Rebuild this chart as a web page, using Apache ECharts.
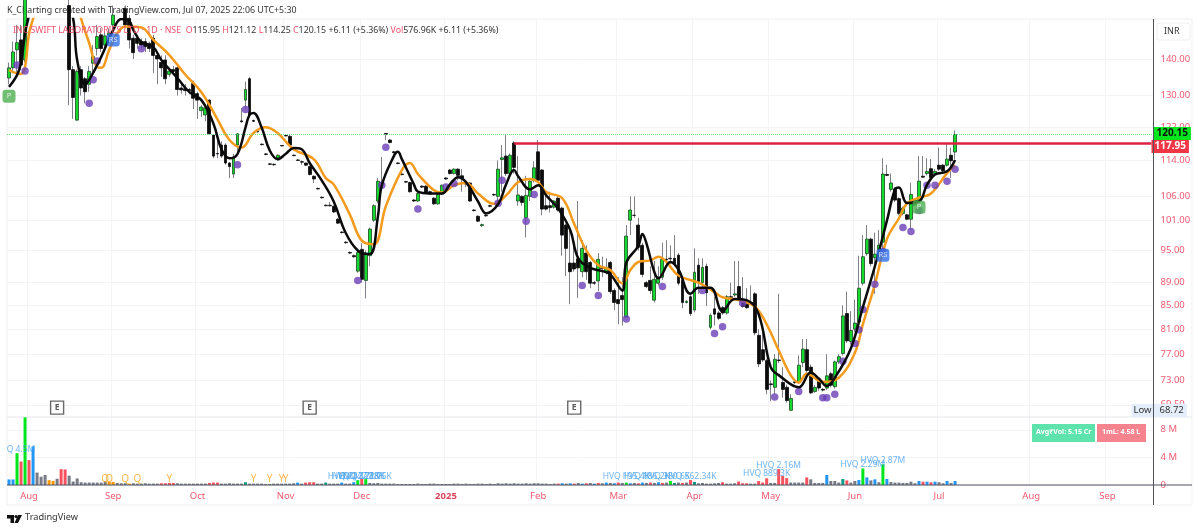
<!DOCTYPE html>
<html>
<head>
<meta charset="utf-8">
<style>html,body{margin:0;padding:0;background:#fff}#main{width:1200px;height:532px}</style>
<script src="https://cdn.jsdelivr.net/npm/echarts@6/dist/echarts.min.js"></script>
</head>
<body>
<div id="main"></div>
<script>
const opens = [
  134.7,137.5,142.6,145.5,139.7,158,165,172,168,174,
  170,166,169,163,160,156,137,123.7,137,134.5,
  133,138.8,143,147,144,147,150,153,156,155,
  152,146,146,145,145,144.5,146,141,139,139.7,
  135.7,137,137.5,132,131.8,131.6,133.2,130.5,126.1,125,
  128.8,120,115.6,117.6,117.6,113.4,110.9,117.6,123.5,128.8,
  134.5,123.6,121,117.8,115.5,113.2,113.1,114.1,117.5,119.9,
  119.7,115.2,114.1,113.7,113.4,112.6,110.4,107.7,105.8,104.1,
  104.1,103.9,101.2,98.6,96.6,94.6,94,91.1,95.2,89.4,
  94,101,105,108.9,120.4,118.8,116,113.4,110.9,109.2,
  109,105.2,105,108.2,108.2,107,105.6,104.4,106.5,110,
  111.8,111,112,110.5,109,108.9,103.1,101.8,99.9,102,
  104,106.4,106,114.2,115,111,118.1,105,106,101.5,
  106,109.5,116,111.8,104,104,103.7,105.6,103.5,100,
  92.6,92.6,93.4,91,94.5,92.7,89,89.3,91.7,90.9,
  92.7,87.6,86,86.7,83,101,102,100,96,89,
  89.4,85.9,88.9,90,93.3,93.5,93.5,94.1,89.4,85.5,
  86.5,84.2,92.2,89,92,81.3,84.4,83.7,84.6,83.7,
  86.5,86.8,88.3,85.4,85.2,85.5,87,80,77.7,76,
  72.5,72,76.1,72.7,72,68.72,72.8,72.8,75.7,77.7,
  75,71.4,72.9,71.7,71.9,74,72.1,75.8,77.1,83.6,
  79,81,82.2,88.9,94.4,97.2,93.6,95,96.6,110.8,
  107.5,107.6,105.5,102.4,102.1,101.2,104.1,105.2,110.4,111,
  112.1,111,112.9,112.9,112.9,115.2,115.95
]
const closes = [
  137.5,142,144.7,138.3,158,165,172,168,174,170,
  166,169,163,160,156,137,129.5,136.5,132,131,
  136.5,140.7,146.5,143,146.7,147.5,153,156,155,150,
  145.5,141.8,144.5,144,143.5,143,141,140,137.5,134.5,
  136.6,136.5,131.6,131.5,131.3,131.3,129.3,128.8,127,126.8,
  120.3,115,115.5,115,113.4,112.6,114.8,120.3,123.3,131.6,
  125,123.4,120.8,117.7,115.4,113.1,113,115.2,117.4,119.8,
  117.6,115.1,114,113.6,112.9,110.8,109.8,107.6,105.7,104,
  104,102.7,100.4,98.5,96.5,94.5,93.8,94.6,89.6,94.5,
  99.2,104,109.3,109,120.2,118.2,115.8,113.3,110.8,109.1,
  107,105,106.6,108,106.8,106.5,104.4,106.4,108.4,109.8,
  111,112,110.6,110,108.7,105,103,100.8,100.1,101.9,
  103.9,106.3,112,114.6,111,115.2,112.4,106.3,104.7,106.2,
  109.3,112.3,109.5,103.3,103.3,103.6,105,103.1,98,95.4,
  91,91.5,91.7,95.4,91,88.9,88.9,93.3,91.6,91.8,
  87.4,85.5,85.3,86,97.8,103.1,102,95.6,90.5,88.3,
  87.6,89.6,90,93.3,93.2,93.4,92.4,88.9,85.5,85.7,
  83.6,90.9,89.2,91.8,87.2,83.3,83.5,82.8,83.7,86.5,
  86.4,87,86.2,84.8,84.6,85.4,80.4,75.5,76.1,71.7,
  72.4,76.2,76,71.7,70.1,70.4,72.7,75.3,77.8,74.5,
  71.2,72,71.9,71.6,73.7,72.3,75.8,76.6,83.2,79.1,
  80.8,82,88,93.8,97.2,92.5,94.3,96,110.9,110.6,
  108.9,105.2,102.4,103.5,101.2,106.4,105.2,109.3,110.2,111.5,
  110.1,111.5,112,111.6,114.3,113.9,120.15
]
const highs = [
  139,145,150,150,165,168,176,178,178,177,
  173,172,171,166,163,158,138,137,138,135,
  138,144,150,149,148,149,156,159,158,156,
  153,147,147,146,146,145,147,142,141,141,
  137.5,138,138,133,133,132,134,131,127.5,127.2,
  129,120.2,119,118.5,118,113.6,115.5,120.5,126.8,133.7,
  135,123.8,121.2,118,115.7,113.4,113.3,115.4,117.6,120,
  120,115.4,114.3,114,113.5,112.8,110.6,107.9,106,104.3,
  104.8,104,101.4,98.8,96.8,94.8,94.2,95,96.4,95,
  99.5,104.3,110,114.8,120.5,119,116.2,113.6,111.1,109.4,
  109.2,105.4,106.8,108.4,108.4,107.2,105.8,106.6,108.6,110.2,
  112,112.2,112.2,112,109.2,109.1,103.3,102,100.3,102.2,
  104.2,106.6,114,117.6,120,115.6,118.5,115,106.2,110.5,
  109.6,113.8,118.8,112,107,107,105.2,106,103.8,100.3,
  99,97,105,97,96,93,89.3,94.5,93.8,93.5,
  93,88,90,90,100,106,106,101.5,96.5,89.3,
  92,93,92,96.5,97,96,98,94.5,89.8,85.9,
  86.8,95.4,93.5,93.5,92.5,83.6,86.5,84,84.9,86.8,
  89,93,93,90,88,88.5,87.3,81,81,76.3,
  73,77,87,75,72.4,71,73,76.8,79.4,79.4,
  75.4,72.3,73.5,71.9,77,74.3,76,77,85,87.4,
  84,86,94,98,100,97.5,98.5,99,114.5,113,
  111,108,105.8,103.8,102.3,109,105.5,115,115,114.5,
  114.3,112,117,113.2,118,117,121.12
]
const lows = [
  133,136,136,137,139,156,163,165,166,167,
  164,163,161,157,154,127.5,124,123.5,130,128,
  131,136,141,142,142,146,148,152,153,149,
  143,140,143,143,142,142,136,133,135,133,
  135,136,130,130.5,130,130.3,126.5,124,124.5,123.4,
  120,114.5,114.5,114.6,113,110,110,116,123,126.5,
  124.5,123.2,120.6,117.5,115.2,113,112.8,114,117.3,119.7,
  117.4,115,113.9,113,112.7,110.6,108.9,107.5,105.5,103.9,
  103.8,102.5,100.2,98.3,96.3,94.3,93.6,90.8,89,86.2,
  92,100.6,104.5,108.6,118.8,118,115.6,113.1,110.6,109,
  106.8,104.8,104.8,107.8,106.6,106.3,104.2,104.2,106.3,109.6,
  110.8,110.8,109.5,107,108,104.8,102.8,100.6,99.6,101.7,
  103.7,106.1,104.5,107,110.5,110,111,104,104,97.5,
  105,109,109,102,103,102.6,103.4,102.8,94,90.2,
  85.2,91,86.3,90,89.5,88,88.6,87.5,90,90.5,
  87,84.2,81.8,81.6,83,98,101.5,95,90,88,
  87,85.5,88.5,89.5,92,92.5,92,88.5,84.5,85.3,
  83.2,83.8,87,88,84.9,81,81.6,82.5,83.4,83.4,
  86.2,86.5,86,84.6,84.4,85.2,80,75,75.8,71,
  70,71,75.6,70.5,69.8,68.72,72.5,72.5,75,74,
  71,71.2,71.5,71.4,71.6,72,71.8,75.5,76.8,78.8,
  78.5,80.5,82,88.5,94,92,87,94.5,95,110.4,
  107,104.8,102,102,101,99,103.8,104.8,110,110.6,
  109.8,110.6,111.6,111.2,112.6,110,114.25
]
// volume in millions
const volumes = [
  .8,.8,4.6,3.4,9.8,3.6,5.6,1.8,1.2,1.45,
  .7,.6,.9,2.3,2.25,1.35,.5,.95,.4,.35,
  .35,.35,.35,.35,.5,.45,.45,.3,.25,.25,
  .2,.25,.2,.2,.25,.2,.2,.2,.25,.25,
  .3,.3,.25,.2,.2,.2,.2,.2,.2,.2,
  .3,.35,.35,.2,.2,.25,.2,.2,.2,.4,
  .2,.2,.2,.2,.15,.15,.2,.2,.2,.2,
  .2,.25,.35,.2,.35,.4,.4,.2,.2,.35,
  .2,.2,.2,.35,.2,.2,.4,.7,.9,.85,
  .3,.25,.3,.2,.2,.2,.2,.15,.15,.15,
  .15,.15,.2,.15,.15,.2,.2,.15,.15,.15,
  .15,.2,.2,.15,.2,.15,.15,.2,.2,.15,
  .2,.15,.25,.2,.25,.2,.25,.2,.2,.25,
  .2,.25,.25,.2,.2,.15,.2,.2,.25,.2,
  .25,.2,.3,.2,.25,.3,.2,.3,.25,.35,
  .3,.25,.35,.3,.35,.25,.3,.25,.35,.3,
  .35,.3,.4,.3,.35,.58,.3,.35,.3,.35,
  .72,.45,.25,.3,.2,.2,.25,.3,.4,.2,
  .2,.25,.5,.25,.25,.2,.2,.58,.35,.97,
  .3,.3,2.3,1.3,1,.35,.35,.35,.35,1.1,
  .82,.3,.3,.3,1.45,.58,.58,.35,.87,.67,
  .35,.58,.72,2.4,1.1,.67,.82,.4,3,.87,
  .43,.35,.35,.3,.3,.48,.25,.58,.48,.48,
  .4,.48,.4,.25,.58,.3,.58
]
// g grey, b blue, v bright green, r red, o orange, t teal
const volumeKinds = (
  'bbvrvrbggg' + 'oogrrggggg' + 'gggggooggg' + 'ogggggggrr' + 'rrgggggggg' +
  'rrrggggggt' + 'gggggggggg' + 'ggbgrrrggt' + 'gggbggbvrv' + 'gggggggggg' +
  'gggggggggg' + 'gggggggggg' + 'gggggggggg' + 'gggggggrbg' + 'brgbrgbrgb' +
  'gbrgvbgrbg' + 'rgbrgvtgrg' + 'rtggggggrg' + 'ggrrrggrrr' + 'ggrrrggggr' +
  'ggggbgggtr' + 'ggbvbgbgvb' + 'gggggggbrb' + 'rbggbgb'
).split('')

// fast and slow moving averages, read at the bends of each line
const fastIdx = [0,2,3,4,5,8,12,16,17,19,20,23,26,28,30,31,33,36,38,42,45,48,51,53,55,57,59,60,61,63,65,67,69,71,73,75,78,81,84,87,90,92,93,96,97,98,101,102,105,108,110,112,114,117,119,122,124,126,127,130,132,134,137,140,142,145,148,150,153,154,157,158,159,161,162,165,167,170,172,175,178,181,184,187,190,192,197,200,202,204,206,210,213,216,219,221,222,224,227,229,231,234,236]
const fastVals = [132.3,135.5,138.9,147.5,153,172,172,151.9,139.7,133,134.2,140.6,148.5,151.8,151.2,148.5,144.9,143.4,139.7,134.7,130.9,128.8,122.8,116.6,114.5,115.5,121.9,125,125.5,121.9,116.4,114.3,115.5,116.9,116.6,113.4,109.5,104.9,98.4,95,94.3,101.6,108.4,115,116,114.3,108.6,107,106.6,106.6,108.6,110.2,109.1,104.9,102.4,104.3,108.6,111.8,110.4,107.5,108.4,106.2,103.4,99,93.5,91.7,91.1,90.5,87.6,92.7,95.9,98.2,96.4,90.9,89.8,92.8,91.4,87,88.1,88.1,84,86.1,85.9,83.5,75,73.8,72,74.2,73.3,72.2,73.4,77.9,84.7,92,100.9,107.5,107.9,104.6,104.9,108.5,110.8,111.5,114.1]
const slowIdx = [0,3,4,5,6,10,14,18,20,22,23,25,27,29,33,36,40,44,48,52,55,58,61,64,67,71,76,79,81,85,88,91,94,98,100,102,106,108,111,114,117,121,124,127,130,132,134,138,141,144,147,150,153,155,157,160,162,164,167,172,176,178,182,186,189,192,195,197,199,203,207,211,213,216,219,222,224,227,230,234,236]
const slowVals = [136.9,135.8,137.8,147.5,151.8,170,170,151.8,144.6,137.7,137.5,142.6,147.5,149.5,149.2,145.5,141.1,135.6,130.9,123.9,118.8,117,120.5,121.9,120.5,116.6,114.3,110,108.6,102.2,96.9,96.2,103.9,111.8,113.4,110.9,107.3,106.8,108.4,108.9,106.6,104.4,106.2,109.1,109.8,109.1,106.9,105.6,100.2,95,92.2,91.3,88.9,91.3,92.8,93.1,93.8,92.8,90.3,89,87.3,86.4,85.9,84.8,81.8,77.6,73.8,72.7,74,72.8,73.4,77.2,81.8,88.7,97.2,101.4,104.5,105.7,106.6,111.1,112.9]

const dotIdx = [2,4,20,21,22,33,57,59,87,93,94,102,109,111,122,123,129,131,143,147,154,163,173,176,178,183,191,197,203,204,206,208,211,212,213,216,218,223,225,227,229,231,234,236]
const dotVals = [138.3,136.6,128,134.2,139.4,142.9,113,126.4,89.4,108.4,117.1,103.3,108,108.8,104.5,109.5,100.8,106.4,88.5,86.7,82.7,88.3,87.6,80.3,81.4,85.4,70.6,71.4,70.5,70.5,71,75.9,78.7,80.9,84.3,88.7,94.8,99.5,98.7,103,108.4,108.4,109.3,112]

const monthIdx = [5,26,47,69,88,109,132,152,171,190,211,232,255,274]
const monthNames = ['Aug','Sep','Oct','Nov','Dec','2025','Feb','Mar','Apr','May','Jun','Jul','Aug','Sep']
const slotCount = 286

const priceTicks = [140,130,122,114,106,101,95,89,85,81,77,73,69.5]
const volumeTicks = [0,4,8]

const earningsIdx = [12,75,141]
const blueBadgeIdx = [26,218]
const blueBadgeVals = [145.5,94.1]
const greenBadgeIdx = [0,227]
const greenBadgeVals = [129.8,103.7]

const lastPrice = 120.15
const levelPrice = 117.95
const levelStart = 126
const lowPrice = 68.72

// labels sitting over the volume bars
const hvqIdx = [3,86,87,88,89,154,159,164,170,189,192,213,218]
const hvqVals = [5.2,1.15,1.15,1.15,1.15,1.15,1.15,1.15,1.15,1.6,2.8,3,3.6]
const hvqTexts = ['Q 4.5M','HVQ 242.21K','HVQ 147.88K','HVQ 327.1K','HVQ 172.75K','HVQ 195.4K','HVQ 186.2K','HVQ 380.6K','HVQ 562.34K','HVQ 889.3K','HVQ 2.16M','HVQ 2.29M','HVQ 2.87M']
const tagIdx = [24,25,29,32,40,61,65,68,69]
const tagTexts = ['Q','Q','Q','Q','Y','Y','Y','Y','Y']
const tagVal = 0.9

const FONT = '"Noto Sans", sans-serif'
const RED_TEXT = '#ee5a70'
const kindColors = { g: '#787b86', b: '#2196f3', v: '#00e61d', r: '#f7525f', o: '#ff9800', t: '#089981' }

const categories = new Array(slotCount).fill('')
monthIdx.forEach((v, i) => { categories[v] = monthNames[i] })
const isMonth = (i, v) => v !== ''
const zip = (a, b) => a.map((v, i) => [v, b[i]])

const wickData = opens.map((o, i) => [o, closes[i], lows[i], highs[i]])
const bodyData = opens.map((o, i) => [o, closes[i], Math.min(o, closes[i]), Math.max(o, closes[i])])
const volumeData = volumes.map((v, i) => ({ value: v, itemStyle: { color: kindColors[volumeKinds[i]] } }))

const badge = (name, idx, vals, color, text) => ({
  name, type: 'scatter', xAxisIndex: 0, yAxisIndex: 0, z: 6,
  symbol: 'roundRect', symbolSize: 13, data: zip(idx, vals),
  itemStyle: { color },
  label: { show: true, position: 'inside', formatter: text, color: '#fff', fontSize: 7.5, fontFamily: FONT }
})

const tagLabel = (bg, color, text, offset) => ({
  show: true, position: 'end', distance: 0, formatter: text, offset,
  backgroundColor: bg, color, fontSize: 10, fontFamily: FONT, fontWeight: 'bold',
  align: 'left', padding: [1.5, 3, 1.5, 3]
})

var myChart = echarts.init(document.getElementById('main'), null, { renderer: 'canvas' })
var option = {
  animation: false,
  backgroundColor: '#fff',
  grid: [
    { left: 7, right: 46.5, top: 19, height: 398 },
    { left: 7, right: 46.5, top: 417, height: 68 }
  ],
  xAxis: [
    {
      type: 'category', gridIndex: 0, data: categories, boundaryGap: true,
      axisLine: { show: false }, axisTick: { show: false, alignWithLabel: true, interval: isMonth },
      axisLabel: { show: false, interval: isMonth },
      splitLine: { show: true, interval: isMonth, lineStyle: { color: '#f4f4f6', width: 1 } }
    },
    {
      type: 'category', gridIndex: 1, data: categories, boundaryGap: true,
      axisLine: { show: false }, axisTick: { show: false, alignWithLabel: true, interval: isMonth },
      axisLabel: {
        interval: isMonth, hideOverlap: false, margin: 6,
        color: RED_TEXT, fontSize: 9.5, fontFamily: FONT,
        formatter: (v) => (v === '2025' ? '{year|2025}' : v),
        rich: { year: { color: '#d9455c', fontWeight: 'bold', fontSize: 9.5, fontFamily: FONT } }
      },
      splitLine: { show: true, interval: isMonth, lineStyle: { color: '#f4f4f6', width: 1 } }
    }
  ],
  yAxis: [
    {
      type: 'log', gridIndex: 0, position: 'right', min: 67.8, max: 151.8, logBase: Math.E,
      axisLine: { show: false },
      axisTick: { show: false, customValues: priceTicks },
      axisLabel: {
        customValues: priceTicks, margin: 7, color: RED_TEXT, fontSize: 9.5, fontFamily: FONT,
        formatter: (v) => Number(v).toFixed(2)
      },
      splitLine: { show: true, lineStyle: { color: '#f4f4f6', width: 1 } }
    },
    {
      type: 'value', gridIndex: 1, position: 'right', min: 0, max: 9.85,
      axisLine: { show: false },
      axisTick: { show: false, customValues: volumeTicks },
      axisLabel: {
        customValues: volumeTicks, margin: 7, color: RED_TEXT, fontSize: 9.5, fontFamily: FONT,
        formatter: (v) => (v === 0 ? '0' : v + ' M')
      },
      splitLine: { show: true, lineStyle: { color: '#f4f4f6', width: 1 } }
    }
  ],
  series: [
    {
      name: 'wicks', type: 'candlestick', xAxisIndex: 0, yAxisIndex: 0, z: 2, barWidth: 1,
      data: wickData,
      itemStyle: { color: 'transparent', color0: 'transparent', borderColor: '#80808a', borderColor0: '#80808a', borderWidth: 1 }
    },
    {
      name: 'bodies', type: 'candlestick', xAxisIndex: 0, yAxisIndex: 0, z: 3, barWidth: 3.4,
      data: bodyData,
      itemStyle: { color: '#16d92e', color0: '#0b0b0b', borderColor: '#1c4a22', borderColor0: '#0b0b0b', borderWidth: 0.8 }
    },
    {
      name: 'slow', type: 'line', xAxisIndex: 0, yAxisIndex: 0, z: 4, smooth: 0.4, showSymbol: false,
      data: zip(slowIdx, slowVals),
      lineStyle: { color: '#f49a1c', width: 2.5 }
    },
    {
      name: 'fast', type: 'line', xAxisIndex: 0, yAxisIndex: 0, z: 5, smooth: 0.4, showSymbol: false,
      data: zip(fastIdx, fastVals),
      lineStyle: { color: '#0a0a0a', width: 2.5 },
      markLine: {
        silent: true, symbol: 'none', animation: false,
        data: [
          { yAxis: lastPrice, lineStyle: { color: '#6fe083', type: 'dotted', width: 1 }, label: tagLabel('#00e61d', '#111', '120.15', [0, -1]) },
          [
            { coord: [levelStart, levelPrice], lineStyle: { color: '#dc2240', type: 'solid', width: 2.5 }, label: tagLabel('#f23645', '#fff', '117.95', [0, 3]) },
            { coord: [slotCount - 1, levelPrice] }
          ],
          { yAxis: lowPrice, lineStyle: { width: 1, color: 'transparent' }, label: { show: true, position: 'end', distance: 0, formatter: '68.72', align: 'left', backgroundColor: '#e4eefb', color: '#333', fontSize: 9.5, fontFamily: FONT, padding: [1.5, 3, 1.5, 6] } },
          { yAxis: lowPrice, lineStyle: { width: 1, color: 'transparent' }, label: { show: true, position: 'insideEnd', distance: 0, formatter: 'Low', backgroundColor: '#e4eefb', color: '#333', fontSize: 9.5, fontFamily: FONT, padding: [1.5, 2] } }
        ]
      }
    },
    {
      name: 'dots', type: 'scatter', xAxisIndex: 0, yAxisIndex: 0, z: 4, symbolSize: 7.5,
      data: zip(dotIdx, dotVals),
      itemStyle: { color: '#6b3fb8' }
    },
    badge('blue badges', blueBadgeIdx, blueBadgeVals, '#2f6fe8', 'RS'),
    badge('green badges', greenBadgeIdx, greenBadgeVals, '#4caf50', 'P'),
    {
      name: 'earnings', type: 'scatter', xAxisIndex: 0, yAxisIndex: 0, z: 6,
      symbol: 'rect', symbolSize: 13,
      data: earningsIdx.map((i) => [i, 69.1]),
      itemStyle: { color: '#fff', borderColor: '#444', borderWidth: 1.4 },
      label: { show: true, position: 'inside', formatter: 'E', color: '#333', fontSize: 8.5, fontWeight: 'bold', fontFamily: FONT }
    },
    {
      name: 'volume', type: 'bar', xAxisIndex: 1, yAxisIndex: 1, barWidth: 3,
      data: volumeData
    },
    {
      name: 'hvq', type: 'scatter', xAxisIndex: 1, yAxisIndex: 1, z: 5, symbolSize: 1,
      data: zip(hvqIdx, hvqVals),
      itemStyle: { color: 'transparent' },
      label: {
        show: true, position: 'inside', color: '#4ba3f0', fontSize: 8.5, fontFamily: FONT,
        formatter: (p) => hvqTexts[p.dataIndex]
      },
      labelLayout: { hideOverlap: false }
    },
    {
      name: 'tags', type: 'scatter', xAxisIndex: 1, yAxisIndex: 1, z: 5, symbolSize: 1,
      data: tagIdx.map((i) => [i, tagVal]),
      itemStyle: { color: 'transparent' },
      label: {
        show: true, position: 'inside', color: '#f5a623', fontSize: 10, fontFamily: FONT,
        formatter: (p) => tagTexts[p.dataIndex]
      },
      labelLayout: { hideOverlap: false }
    }
  ],
  graphic: [
    { type: 'rect', silent: true, z: 0, shape: { x: 7, y: 19, width: 1185, height: 486 }, style: { fill: 'none', stroke: '#efeff2', lineWidth: 1 } },
    { type: 'line', silent: true, z: 1, shape: { x1: 7, y1: 417, x2: 1192, y2: 417 }, style: { stroke: '#e6e7ea', lineWidth: 1 } },
    { type: 'line', silent: true, z: 10, shape: { x1: 7, y1: 485, x2: 1192, y2: 485 }, style: { stroke: '#50535e', lineWidth: 1 } },
    { type: 'line', silent: true, z: 10, shape: { x1: 1153.5, y1: 19, x2: 1153.5, y2: 505 }, style: { stroke: '#50535e', lineWidth: 1 } },
    { type: 'text', silent: true, left: 7, top: 6, style: { text: 'K_Charting created with TradingView.com, Jul 07, 2025 22:06 UTC+5:30', fill: '#333', font: '8.8px ' + FONT } },
    {
      type: 'text', silent: true, z: 8, left: 13, top: 26,
      style: {
        text: '{r|INC SWIFT LABORATORIES LTD · 1D · NSE}  {r|O}{k|115.95} {r|H}{k|121.12} {r|L}{k|114.25} {r|C}{k|120.15} {k|+6.11 (+5.36%)} {r|Vol}{k|576.96K} {k|+6.11 (+5.36%)}',
        font: '8.8px ' + FONT,
        rich: {
          r: { fill: '#f0506e', font: '8.8px ' + FONT },
          k: { fill: '#333', font: '8.8px ' + FONT }
        }
      }
    },
    { type: 'rect', silent: true, z: 8, shape: { x: 1157, y: 23, width: 33, height: 17, r: 2 }, style: { fill: '#fff', stroke: '#f0f0f2' } },
    { type: 'text', silent: true, z: 9, left: 1164, top: 27, style: { text: 'INR', fill: '#333', font: '9px ' + FONT } },
    { type: 'rect', silent: true, z: 8, shape: { x: 1032, y: 424, width: 63, height: 18 }, style: { fill: '#5fe3ac' } },
    { type: 'text', silent: true, z: 9, left: 1036, top: 428, style: { text: 'Avg₹Vol: 5.15 Cr', fill: '#fff', font: 'bold 7px ' + FONT } },
    { type: 'rect', silent: true, z: 8, shape: { x: 1097, y: 424, width: 49, height: 18 }, style: { fill: '#f7838f' } },
    { type: 'text', silent: true, z: 9, left: 1102, top: 428, style: { text: '1mL: 4.58 L', fill: '#fff', font: 'bold 7px ' + FONT } },
    // TradingView mark
    { type: 'polygon', silent: true, shape: { points: [[7, 515], [14, 515], [14, 523], [10.5, 523], [10.5, 518.5], [7, 518.5]] }, style: { fill: '#111' } },
    { type: 'circle', silent: true, shape: { cx: 16, cy: 516.5, r: 1.6 }, style: { fill: '#111' } },
    { type: 'polygon', silent: true, shape: { points: [[18, 515], [22, 515], [18, 523], [14.5, 523]] }, style: { fill: '#111' } },
    { type: 'text', silent: true, left: 25, top: 513, style: { text: 'TradingView', fill: '#333', font: '9.2px ' + FONT } }
  ]
}
myChart.setOption(option)
</script>
</body>
</html>
